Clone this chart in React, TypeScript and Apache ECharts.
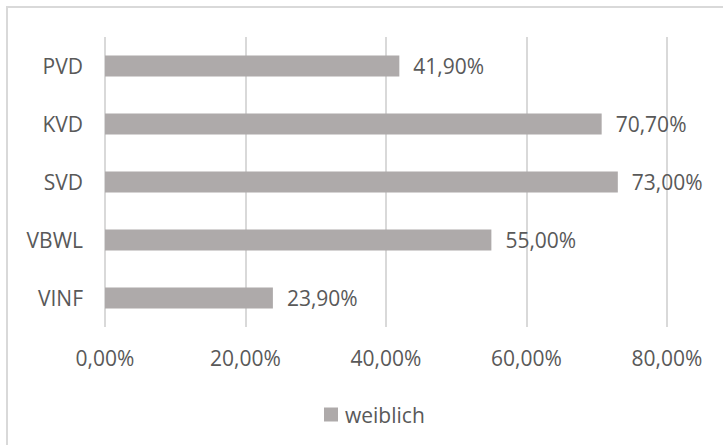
import React, { useEffect, useRef } from "react";
import * as echarts from "echarts";

const categories = ["PVD", "KVD", "SVD", "VBWL", "VINF"];
const weiblich = [0.419, 0.707, 0.73, 0.55, 0.239];
const seriesName = "weiblich";

const fmt = (v: number) => (v * 100).toFixed(2).replace(".", ",") + "%";

export default function App() {
  const ref = useRef<HTMLDivElement>(null);
  useEffect(() => {
    const chart = echarts.init(ref.current!, null, { renderer: "svg" });
    const font = "'Open Sans', 'Noto Sans', sans-serif";
    chart.setOption({
      animation: false,
      backgroundColor: "#ffffff",
      textStyle: { fontFamily: font },
      graphic: [
        {
          type: "rect",
          shape: { x: 7, y: 7, width: 740, height: 460 },
          style: { fill: "none", stroke: "#d9d9d9", lineWidth: 2 },
          silent: true,
        },
      ],
      grid: { left: 105, right: 56, top: 37, bottom: 118 },
      xAxis: {
        type: "value",
        min: 0,
        max: 0.8,
        interval: 0.2,
        axisLine: { show: false },
        axisTick: { show: false },
        splitLine: { show: true, lineStyle: { color: "#d9d9d9", width: 2 } },
        axisLabel: {
          formatter: fmt,
          color: "#595959",
          fontSize: 21,
          fontFamily: font,
          margin: 20,
        },
      },
      yAxis: {
        type: "category",
        data: categories,
        inverse: true,
        axisLine: { show: false },
        axisTick: { show: false },
        splitLine: { show: false },
        axisLabel: {
          color: "#595959",
          fontSize: 21,
          fontFamily: font,
          margin: 22,
        },
      },
      legend: {
        data: [seriesName],
        left: 319,
        top: 399,
        icon: "rect",
        itemWidth: 14,
        itemHeight: 14,
        itemGap: 10,
        textStyle: { color: "#595959", fontSize: 21, fontFamily: font, padding: [0, 0, 0, 2] },
      },
      series: [
        {
          name: seriesName,
          type: "bar",
          data: weiblich,
          barWidth: 21,
          itemStyle: { color: "#aeaaaa" },
          label: {
            show: true,
            position: "right",
            distance: 14,
            formatter: (p: any) => fmt(p.value),
            color: "#595959",
            fontSize: 21,
            fontFamily: font,
          },
        },
      ],
    });
    return () => chart.dispose();
  }, []);
  return (
    <div
      ref={ref}
      style={{ position: "fixed", left: 0, top: 0, width: 723, height: 445 }}
    />
  );
}
